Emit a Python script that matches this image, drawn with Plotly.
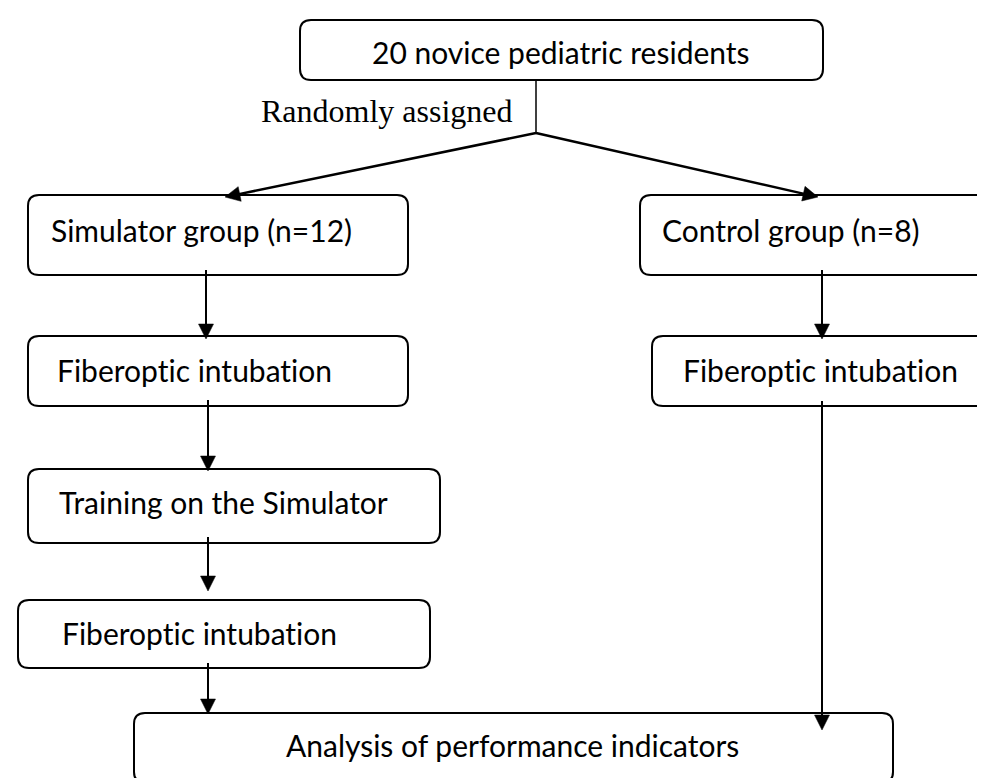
import math
import plotly.graph_objects as go

W, H = 985, 778

# ---- content ----
box_labels = [
    "20 novice pediatric residents",
    "Simulator group (n=12)",
    "Control group (n=8)",
    "Fiberoptic intubation",
    "Fiberoptic intubation",
    "Training on the Simulator",
    "Fiberoptic intubation",
    "Analysis of performance indicators",
]
branch_label = "Randomly assigned"

# ---- layout geometry (pixel space, y downwards) ----
box_rects = [
    (292, 815, 12, 72),
    (20, 400, 187, 267),
    (632, 1000, 187, 267),
    (20, 400, 328, 398),
    (644, 981, 328, 398),
    (20, 432, 461, 535),
    (10, 422, 592, 660),
    (126, 885, 705, 775),
]
text_pos = [
    (553, 44),
    (193, 222),
    (783, 222),
    (186, 362),
    (812, 362),
    (215, 494),
    (191, 625),
    (504, 737),
]
arrows = [
    ((528, 125), (217, 189), 2.5),
    ((528, 125), (810, 189), 2.5),
    ((198, 262), (198, 331), 2),
    ((200, 392), (200, 463), 2),
    ((200, 529), (200, 583), 2),
    ((200, 655), (200, 706), 2),
    ((814, 262), (814, 331), 2),
    ((814, 393), (814, 722), 2),
]
plain_lines = [((528, 72), (528, 125), 1.5)]

FONT = "Lato, Calibri, sans-serif"
FSIZE = 30

shapes = []
annotations = []


def rounded(x0, x1, y0, y1, r=11):
    return (f"M {x0+r},{y0} L {x1-r},{y0} Q {x1},{y0} {x1},{y0+r} "
            f"L {x1},{y1-r} Q {x1},{y1} {x1-r},{y1} L {x0+r},{y1} "
            f"Q {x0},{y1} {x0},{y1-r} L {x0},{y0+r} Q {x0},{y0} {x0+r},{y0} Z")


for (x0, x1, y0, y1), lab, (tx, ty) in zip(box_rects, box_labels, text_pos):
    shapes.append(dict(type="path", path=rounded(x0, x1, y0, y1), xref="x", yref="y",
                       line=dict(color="black", width=2), fillcolor="rgba(0,0,0,0)"))
    annotations.append(dict(x=tx, y=ty, xref="x", yref="y",
                            text=f'<span style="font-variant-ligatures:none">{lab}</span>',
                            showarrow=False, xanchor="center", yanchor="middle",
                            font=dict(family=FONT, size=FSIZE, color="black")))

for (p, q, w) in plain_lines:
    shapes.append(dict(type="line", x0=p[0], y0=p[1], x1=q[0], y1=q[1], xref="x", yref="y",
                       line=dict(color="black", width=w)))

HL, HW = 15, 7.5
for (p, q, w) in arrows:
    dx, dy = q[0] - p[0], q[1] - p[1]
    L = math.hypot(dx, dy)
    ux, uy = dx / L, dy / L
    bx, by = q[0] - ux * HL, q[1] - uy * HL
    shapes.append(dict(type="line", x0=p[0], y0=p[1], x1=bx + ux * 2, y1=by + uy * 2,
                       xref="x", yref="y", line=dict(color="black", width=w)))
    px, py = -uy, ux
    tri = (f"M {q[0]},{q[1]} L {bx + px*HW},{by + py*HW} "
           f"L {bx - px*HW},{by - py*HW} Z")
    shapes.append(dict(type="path", path=tri, xref="x", yref="y",
                       line=dict(color="black", width=0.5), fillcolor="black"))

annotations.append(dict(x=507, y=103, xref="x", yref="y", text=branch_label, showarrow=False,
                        xanchor="right", yanchor="middle",
                        font=dict(family="Liberation Serif, Times New Roman, serif",
                                  size=32, color="black")))

fig = go.Figure()
fig.update_layout(
    width=W, height=H, margin=dict(l=0, r=0, t=0, b=0),
    paper_bgcolor="white", plot_bgcolor="white",
    xaxis=dict(range=[0, W], visible=False, fixedrange=True),
    yaxis=dict(range=[H, 0], visible=False, fixedrange=True),
    shapes=shapes, annotations=annotations, showlegend=False,
)
fig.write_html("out.html", config={"displayModeBar": False})
